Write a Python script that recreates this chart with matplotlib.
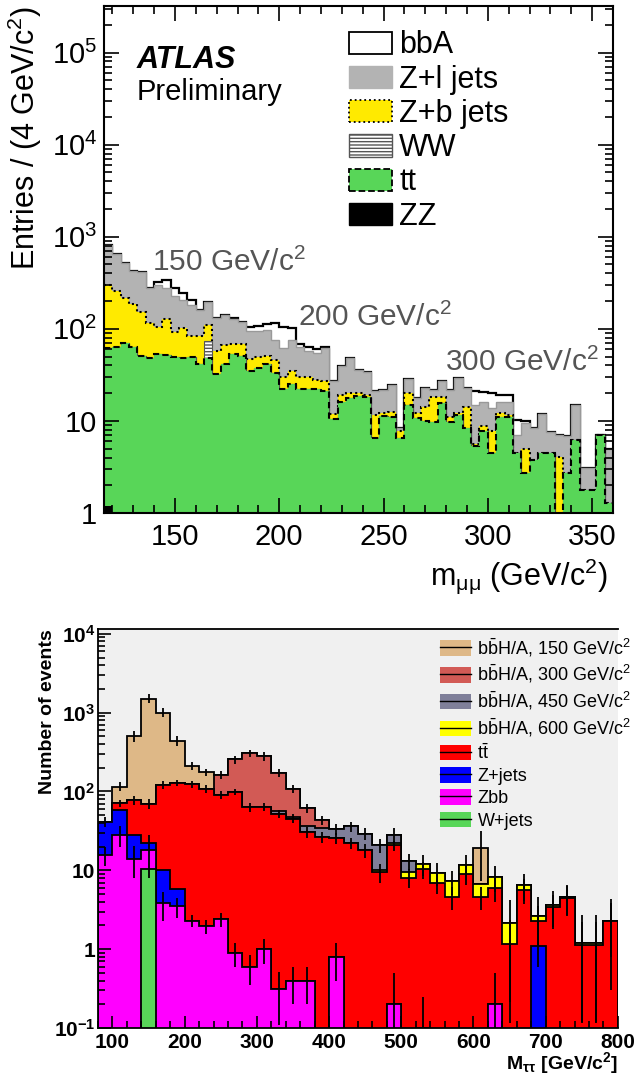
import numpy as np
import matplotlib
matplotlib.use("Agg")
import matplotlib.pyplot as plt
from matplotlib.patches import Patch
from matplotlib.lines import Line2D
from matplotlib.ticker import FixedLocator, FixedFormatter, MultipleLocator, LogLocator, NullFormatter

plt.rcParams['font.family'] = ['Liberation Sans', 'DejaVu Sans']
plt.rcParams['mathtext.fontset'] = 'custom'
plt.rcParams['mathtext.rm'] = 'Liberation Sans'
plt.rcParams['mathtext.it'] = 'Liberation Sans:italic'
plt.rcParams['mathtext.bf'] = 'Liberation Sans:bold'
plt.rcParams['hatch.linewidth'] = 1.0

# ── top panel: m_mumu, 4 GeV bins from 116 to 360 ───────────────────────────
mmu_edges = np.arange(116, 361, 4)

zz = np.zeros(61)
zz[0] = 1.2
ww = np.zeros(61)
ww[12] = 25
tt = [60.8, 64, 70, 63, 51, 48, 53, 52, 50, 48,
      50, 42, 48, 32, 41, 53, 51, 35, 38, 41,
      33, 22, 25, 22, 22, 22, 21, 10.5, 16, 17.6,
      18.5, 18.4, 6.5, 11.2, 11, 6.5, 15, 10.7, 10, 9.8,
      15.6, 9.8, 11.6, 8.3, 5.3, 7.7, 4.5, 11.1, 11.1, 4.5,
      2.7, 3.8, 4.5, 4.5, 0, 2.7, 6.2, 1.8, 1.8, 7, 1.27]
zb = [238, 191, 145, 122, 103, 67, 53, 75, 43, 54,
      33, 41, 38, 25, 26, 15, 17, 12, 12, 10,
      13, 8, 10, 8, 8, 6, 6, 1.5, 3, 2.4,
      1.5, 0.8, 5.1, 0.9, 1.5, 1.2, 5, 1.4, 4.3, 8.6,
      2.8, 1.3, 0.5, 6, 0.3, 1, 3.2, 1, 0.5, 0,
      2.3, 0, 0, 0, 4.1, 0, 0, 0, 0, 0, 0]
zl = [518, 395, 302, 235, 256, 162, 194, 150, 132, 105,
      99, 78, 87, 74, 75, 61, 52, 47, 44, 47,
      29, 32, 40, 34, 28, 27, 35, 15, 20, 28,
      16, 14.8, 9.4, 9.4, 12, 0.6, 8.5, 5.6, 8.7, 3.3,
      8.6, 10.6, 17.4, 8.3, 9.4, 7.5, 6.1, 4.1, 4.6, 2.5,
      4.5, 4.5, 7.5, 3, 2.9, 4.1, 8.8, 1.3, 1.3, 0, 3.7]
bba = [0, 0, 0, 0, 0, 0, 20, 63, 52, 37,
       25, 0, 0, 0, 0, 3, 0, 11, 14, 15,
       40, 43, 27, 4, 6, 5, 2, 0, 0, 0,
       0, 0, 0, 0, 0, 0, 0, 0, 0, 0,
       0, 0, 0, 0, 6, 4.6, 6.2, 3, 3, 3.3,
       0.5, 0, 0, 0, 0, 0, 0, 0, 0, 0, 0]
top_labels = ["bbA", "Z+l jets", "Z+b jets", "WW", "tt", "ZZ"]
mass_notes = [r"150 GeV/c$^2$", r"200 GeV/c$^2$", r"300 GeV/c$^2$"]

# ── bottom panel: M_tautau, 20 GeV bins from 80 to 800 ───────────────────────
mtt_edges = np.arange(80, 801, 20)
wjets = np.zeros(36)
wjets[3] = 10.5
zbb = [15.5, 28, 14.1, 7.5, 3.8, 3.5, 2.3, 1.95, 2.4, 0.9,
       0.6, 1.0, 0.31, 0.4, 0.4, 0, 0.8, 0, 0, 0,
       0.2, 0, 0.1, 0, 0, 0, 0, 0.2, 0, 0,
       0, 0, 0, 0, 0, 0]
zjets = [25.5, 31, 13.9, 4.3, 6.2, 2.3, 0, 0, 0, 0,
         0, 0, 0, 0, 0, 0, 0, 0, 0, 0,
         0, 0, 0, 0, 0, 0, 0, 0, 0, 0,
         1.1, 0, 0, 0, 0, 0]
ttbar = [0, 12, 50, 47, 111, 123, 121, 107, 88, 98,
         63, 63, 52, 45, 30.4, 26.5, 25, 22, 18, 9.5,
         20.6, 8.1, 10.2, 7, 4.6, 9.1, 4.6, 5.8, 1.16, 5.7,
         1.2, 3.4, 4.5, 1.14, 1.14, 2.3]
sig600 = [0, 0, 0, 0, 0, 0, 0, 0, 0, 0,
          0, 0, 0, 0, 0, 0, 0, 0, 0, 0.5,
          1.5, 1.3, 1.7, 2.3, 2.7, 2.5, 2.2, 2.3, 1.0, 0.9,
          0.3, 0.2, 0.1, 0.06, 0.04, 0]
sig450 = [0, 0, 0, 0, 0, 0, 0, 0, 0, 0,
          0, 0, 4.4, 2.4, 5.5, 7.5, 7.5, 14, 11, 10.8,
          5.7, 3.8, 0, 0, 0, 0, 0, 0, 0, 0,
          0, 0, 0, 0, 0, 0]
sig300 = [0, 0, 0, 0, 0, 0, 0, 0, 72, 157,
          242, 214, 116, 61, 25, 9.4, 0, 0, 0, 0,
          0, 0, 0, 0, 0, 0, 0, 0, 0, 0,
          0, 0, 0, 0, 0, 0]
sig150 = [0, 44, 431, 1438, 880, 314, 89, 66, 0, 0,
          0, 0, 0, 0, 0, 0, 0, 0, 0, 0,
          0, 0, 0, 0, 0, 0, 12.6, 0, 0, 0,
          0, 0, 0, 0, 0, 0]
err_top = [6, 15, 80, 200, 130, 60, 25, 20, 20, 30,
           35, 35, 20, 12, 8, 6, 5, 5, 5, 4,
           6, 3, 3.5, 3, 2.5, 4, 12, 3, 2, 2.5,
           2, 1.8, 2, 1.5, 1.5, 2]
err_tt = [0, 8, 10, 10, 14, 12, 12, 12, 10, 10,
          8, 8, 6, 6, 5, 4, 4, 3.5, 3.5, 2.5,
          3, 2.2, 2.5, 2, 1.5, 2.5, 1.5, 2, 1.2, 2,
          1.2, 1.5, 1.8, 1.1, 1.1, 1.5]
err_zbb = [4, 8, 6, 10, 1.5, 1, 0.4, 0.4, 0.5, 0.3,
           0.25, 0.35, 0.2, 0.2, 0.2, 0, 0.4, 0, 0, 0,
           0.3, 0, 0.15, 0, 0, 0, 0, 0.3, 0, 0,
           0, 0, 0, 0, 0, 0]
bot_labels = [r"b$\bar{\mathrm{b}}$H/A, 150 GeV/c$^2$",
              r"b$\bar{\mathrm{b}}$H/A, 300 GeV/c$^2$",
              r"b$\bar{\mathrm{b}}$H/A, 450 GeV/c$^2$",
              r"b$\bar{\mathrm{b}}$H/A, 600 GeV/c$^2$",
              r"t$\bar{\mathrm{t}}$", "Z+jets", "Zbb", "W+jets"]

FLOOR = 1e-3

def layer(ax, level, edges, **kw):
    ax.stairs(np.maximum(level, FLOOR), edges, baseline=FLOOR, **kw)

def step_line(ax, level, edges, **kw):
    ax.stairs(np.maximum(level, FLOOR), edges, baseline=None, fill=False, **kw)


fig = plt.figure(figsize=(6.39, 10.78), dpi=100)

# ── top panel ───────────────────────────────────────────────────────────────
ax1 = fig.add_axes([0.1628, 0.5241, 0.7965, 0.4703])
GRAY, YEL, GRN = "#b3b3b3", "#ffea00", "#58d658"

lv_green = zz + np.array(tt)
lv_ww = lv_green + ww
lv_zb = lv_ww + np.array(zb)
lv_zl = lv_zb + np.array(zl)
lv_tot = lv_zl + np.array(bba)

layer(ax1, lv_tot, mmu_edges, fill=True, color="white")
step_line(ax1, lv_tot, mmu_edges, color="black", lw=1.6)
layer(ax1, lv_zl, mmu_edges, fill=True, color=GRAY)
step_line(ax1, lv_zl, mmu_edges, color="#999999", lw=1.0)
layer(ax1, lv_zb, mmu_edges, fill=True, color=YEL)
step_line(ax1, lv_zb, mmu_edges, color="black", lw=1.5, ls=(0, (1, 1.5)))
ax1.stairs(lv_ww, mmu_edges, baseline=lv_green, fill=True, facecolor="white",
           edgecolor="#555555", hatch="-----", lw=0.8)
layer(ax1, lv_green, mmu_edges, fill=True, color=GRN)
step_line(ax1, lv_green, mmu_edges, color="black", lw=1.5, ls=(0, (3, 2)))
layer(ax1, zz, mmu_edges, fill=True, color="black")

ax1.set_yscale("log")
ax1.set_xlim(116, 360)
ax1.set_ylim(1, 3.2e5)
ax1.xaxis.set_major_locator(FixedLocator([150, 200, 250, 300, 350]))
ax1.xaxis.set_minor_locator(MultipleLocator(10))
ax1.yaxis.set_major_locator(FixedLocator([1, 10, 1e2, 1e3, 1e4, 1e5]))
ax1.yaxis.set_major_formatter(FixedFormatter(["1", "10", r"10$^2$", r"10$^3$", r"10$^4$", r"10$^5$"]))
ax1.yaxis.set_minor_locator(LogLocator(base=10, subs=np.arange(2, 10), numticks=20))
ax1.yaxis.set_minor_formatter(NullFormatter())
ax1.tick_params(which="both", direction="in", top=True, right=True, labelsize=21, width=1.2)
ax1.tick_params(which="major", length=11)
ax1.tick_params(which="minor", length=6)
ax1.tick_params(axis="x", pad=7)
ax1.tick_params(axis="y", pad=5)
for s in ax1.spines.values():
    s.set_linewidth(1.5)
ax1.set_ylabel(r"Entries / (4 GeV/c$^2$)", fontsize=22, loc="top")
ax1.yaxis.set_label_coords(-0.118, 1.0)
ax1.set_xlabel(r"m$_{\mathrm{\mu\mu}}$ (GeV/c$^2$)", fontsize=22, loc="right")
ax1.xaxis.set_label_coords(0.99, -0.085)

ax1.text(0.065, 0.893, "ATLAS", transform=ax1.transAxes, fontsize=22,
         fontweight="bold", fontstyle="italic", va="center")
ax1.text(0.065, 0.830, "Preliminary", transform=ax1.transAxes, fontsize=21, va="center")
for txt, x, y in zip(mass_notes, [0.094, 0.381, 0.670], [0.495, 0.385, 0.298]):
    ax1.text(x, y, txt, transform=ax1.transAxes, fontsize=21.5, color="#555555", va="center")

top_handles = [
    Patch(facecolor="white", edgecolor="black", lw=1.3),
    Patch(facecolor=GRAY, edgecolor=GRAY),
    Patch(facecolor=YEL, edgecolor="black", ls=":", lw=1.3),
    Patch(facecolor="white", edgecolor="#555555", hatch="-----", lw=1.0),
    Patch(facecolor=GRN, edgecolor="black", ls="--", lw=1.3),
    Patch(facecolor="black", edgecolor="black"),
]
ax1.legend(top_handles, top_labels, loc="upper left", bbox_to_anchor=(0.481, 0.952),
           frameon=False, fontsize=22, handlelength=1.4, handleheight=0.75,
           labelspacing=0.14, handletextpad=0.25, borderpad=0, borderaxespad=0)

# ── bottom panel ────────────────────────────────────────────────────────────
ax2 = fig.add_axes([0.1534, 0.0464, 0.8136, 0.3701])
ax2.set_facecolor("#f0f0f0")
C150, C300, C450, C600 = "#deb887", "#d25a55", "#7f7f99", "#ffff00"
CTT, CZJ, CZBB, CWJ = "#ff0000", "#0000ff", "#ff00ff", "#58d658"

layers = [wjets, zbb, zjets, ttbar, sig600, sig450, sig300, sig150]
colors = [CWJ, CZBB, CZJ, CTT, C600, C450, C300, C150]
levels = np.cumsum(np.array(layers, dtype=float), axis=0)
for lv, col in zip(levels[::-1], colors[::-1]):
    layer(ax2, lv, mtt_edges, fill=True, facecolor=col, edgecolor="black", lw=1.3)

centers = 0.5 * (mtt_edges[:-1] + mtt_edges[1:])
for lv, err in [(levels[-1], err_top), (levels[3], err_tt), (levels[1], err_zbb)]:
    err = np.array(err, dtype=float)
    ok = (err > 0) & (lv > 0)
    lo = np.minimum(err[ok], lv[ok] * 0.9)
    ax2.errorbar(centers[ok], lv[ok], yerr=[lo, err[ok]], fmt="none",
                 ecolor="black", elinewidth=1.3, capsize=0)

ax2.set_yscale("log")
ax2.set_xlim(80, 800)
ax2.set_ylim(0.1, 1.15e4)
ax2.xaxis.set_major_locator(MultipleLocator(100))
ax2.xaxis.set_minor_locator(MultipleLocator(20))
ax2.yaxis.set_major_locator(FixedLocator([0.1, 1, 10, 1e2, 1e3, 1e4]))
ax2.yaxis.set_major_formatter(FixedFormatter([r"$\mathbf{10^{-1}}$", "1", "10",
                                              r"$\mathbf{10^{2}}$", r"$\mathbf{10^{3}}$",
                                              r"$\mathbf{10^{4}}$"]))
ax2.yaxis.set_minor_locator(LogLocator(base=10, subs=np.arange(2, 10), numticks=20))
ax2.yaxis.set_minor_formatter(NullFormatter())
ax2.tick_params(which="both", direction="in", labelsize=15, width=1.2)
ax2.tick_params(which="major", length=9)
ax2.tick_params(which="minor", length=5)
ax2.tick_params(axis="y", pad=2)
for lab in ax2.get_xticklabels() + ax2.get_yticklabels():
    lab.set_fontweight("bold")
for s in ax2.spines.values():
    s.set_linewidth(1.3)
ax2.spines["right"].set_visible(False)
ax2.set_ylabel("Number of events", fontsize=14, fontweight="bold", loc="top")
ax2.yaxis.set_label_coords(-0.08, 1.0)
ax2.set_xlabel(r"M$_{\mathbf{\tau\tau}}$ [GeV/c$^{\mathbf{2}}$]", fontsize=14,
               fontweight="bold", loc="right")
ax2.xaxis.set_label_coords(1.0, -0.055)

bot_handles = [(Patch(facecolor=c, edgecolor="none"), Line2D([], [], color="black", lw=1.0))
               for c in colors[::-1]]
ax2.legend(bot_handles, bot_labels, loc="upper left", bbox_to_anchor=(0.658, 0.982),
           frameon=False, fontsize=13, handlelength=1.72, handleheight=0.95,
           labelspacing=0.24, handletextpad=0.35, borderpad=0, borderaxespad=0)

fig.savefig("out.png", dpi=100)
